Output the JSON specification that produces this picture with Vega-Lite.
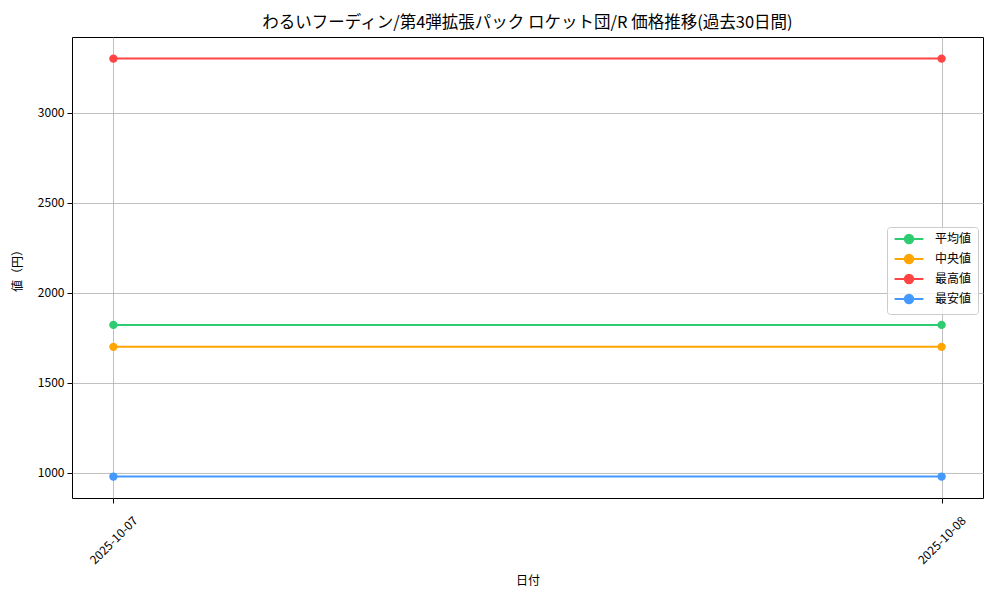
{
  "$schema": "https://vega.github.io/schema/vega-lite/v6.json",
  "width": 911,
  "height": 461,
  "autosize": {"type": "none"},
  "padding": {"left": 72, "top": 37, "right": 17, "bottom": 102},
  "background": "white",
  "title": {
    "text": "わるいフーディン/第4弾拡張パック ロケット団/R 価格推移(過去30日間)",
    "font": "Noto Sans CJK JP",
    "fontSize": 16.5,
    "fontWeight": "normal",
    "color": "black",
    "anchor": "middle",
    "offset": 6
  },
  "config": {
    "view": {"stroke": "black", "strokeWidth": 1},
    "font": "Noto Sans CJK JP",
    "axis": {
      "labelFont": "Noto Sans CJK JP",
      "titleFont": "Noto Sans CJK JP",
      "labelFontSize": 12,
      "titleFontSize": 12,
      "titleFontWeight": "normal",
      "labelColor": "black",
      "titleColor": "black",
      "domain": false,
      "tickColor": "black",
      "tickSize": 5,
      "gridColor": "#b0b0b0",
      "gridWidth": 0.8
    }
  },
  "data": {
    "values": [
      {"date": "2025-10-07", "series": "平均値", "value": 1822},
      {"date": "2025-10-08", "series": "平均値", "value": 1822},
      {"date": "2025-10-07", "series": "中央値", "value": 1700},
      {"date": "2025-10-08", "series": "中央値", "value": 1700},
      {"date": "2025-10-07", "series": "最高値", "value": 3300},
      {"date": "2025-10-08", "series": "最高値", "value": 3300},
      {"date": "2025-10-07", "series": "最安値", "value": 980},
      {"date": "2025-10-08", "series": "最安値", "value": 980}
    ]
  },
  "mark": {
    "type": "line",
    "strokeWidth": 2,
    "point": {"filled": true, "size": 70, "opacity": 1}
  },
  "encoding": {
    "x": {
      "field": "date",
      "type": "ordinal",
      "title": "日付",
      "scale": {"type": "point", "padding": 0.05},
      "axis": {
        "grid": true,
        "labelAngle": -45,
        "labelAlign": "center",
        "labelBaseline": "middle",
        "labelPadding": 37,
        "titlePadding": 9
      }
    },
    "y": {
      "field": "value",
      "type": "quantitative",
      "title": "値（円）",
      "scale": {"domain": [861, 3420], "nice": false, "zero": false},
      "axis": {
        "values": [1000, 1500, 2000, 2500, 3000],
        "format": "d",
        "grid": true,
        "labelPadding": 3,
        "titlePadding": 13
      }
    },
    "color": {
      "field": "series",
      "type": "nominal",
      "sort": ["平均値", "中央値", "最高値", "最安値"],
      "scale": {
        "domain": ["平均値", "中央値", "最高値", "最安値"],
        "range": ["#2ecc71", "#ffa500", "#ff4444", "#4499ff"]
      },
      "legend": {
        "title": null,
        "orient": "none",
        "legendX": 815,
        "legendY": 190,
        "fillColor": "rgba(255,255,255,0.8)",
        "strokeColor": "#cccccc",
        "cornerRadius": 3,
        "padding": 6,
        "rowPadding": 2,
        "labelFont": "Noto Sans CJK JP",
        "labelFontSize": 12,
        "labelColor": "black",
        "labelOffset": 20,
        "symbolOffset": 10,
        "symbolType": "M-3.6,0H3.6M1.05,0A1.05,1.05,0,1,1,-1.05,0A1.05,1.05,0,1,1,1.05,0Z",
        "symbolSize": 64,
        "symbolStrokeWidth": 2,
        "symbolOpacity": 1,
        "encode": {
          "symbols": {
            "update": {
              "fill": {"scale": "color", "field": "value"},
              "stroke": {"scale": "color", "field": "value"}
            }
          }
        }
      }
    }
  }
}
